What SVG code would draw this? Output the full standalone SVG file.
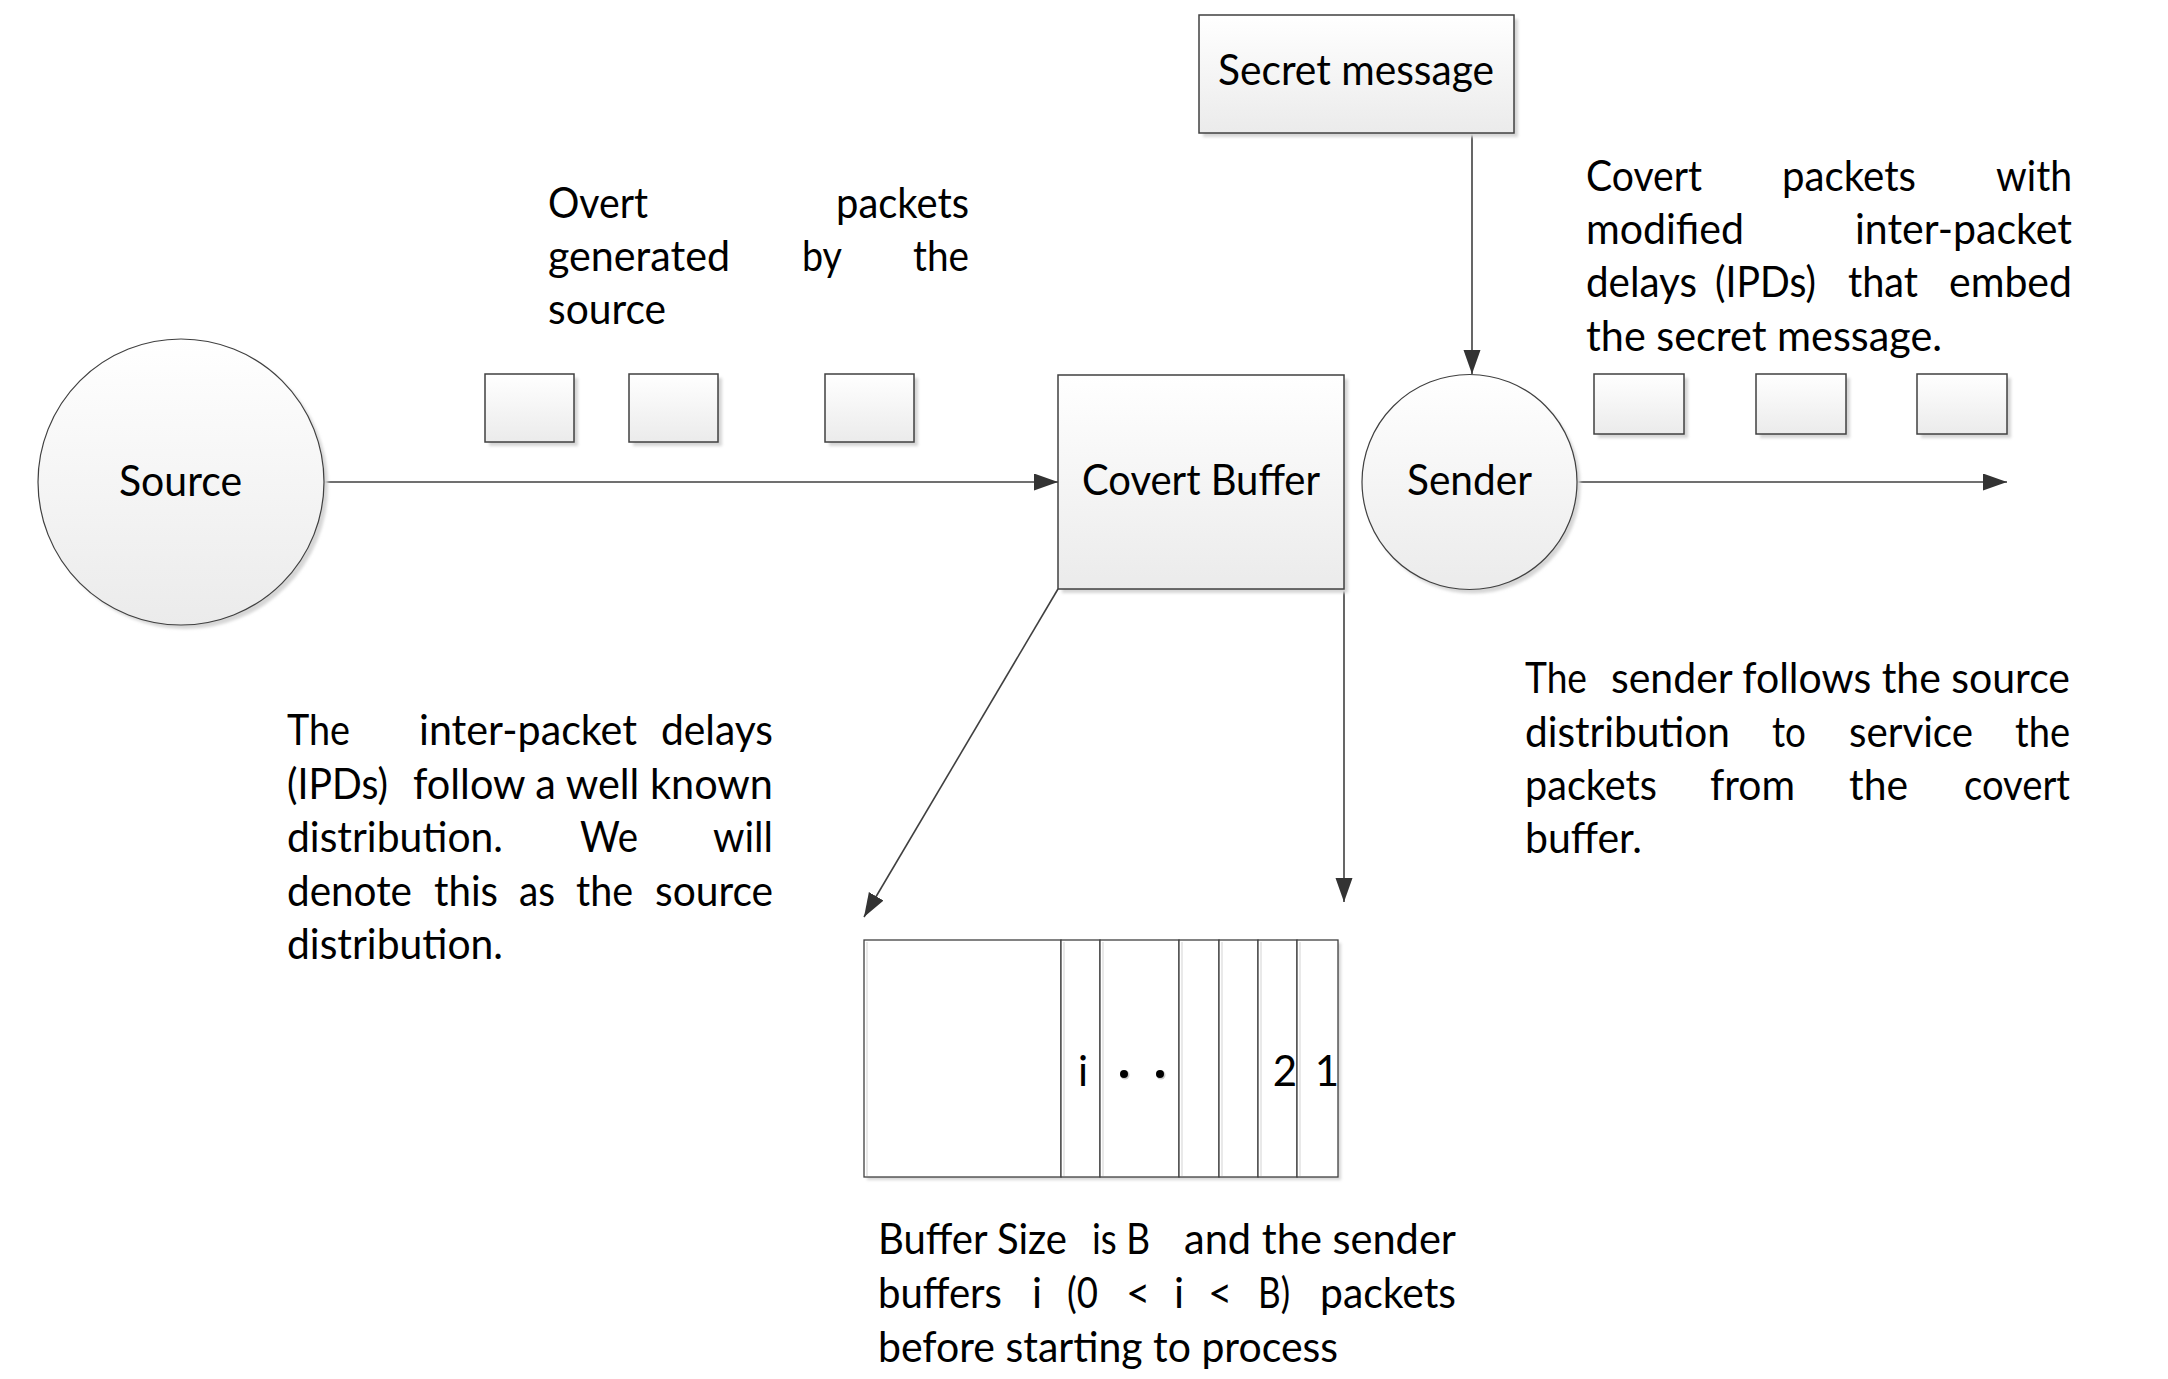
<svg xmlns="http://www.w3.org/2000/svg" width="2168" height="1379" viewBox="0 0 2168 1379">
<style>
.t{font-family:Lato,"Open Sans","Liberation Sans",sans-serif;font-size:42px;fill:#000}
.box{fill:url(#g);stroke:#404040;stroke-width:1.5}
.circ{fill:url(#g);stroke:#404040;stroke-width:1.2}
.cell{fill:#fff;stroke:#404040;stroke-width:1.3}
.sh{fill:#d6d6d6;filter:url(#blur)}
.conn{stroke:#404040;stroke-width:1.6;fill:none;marker-end:url(#arr)}
</style>
<defs>
<linearGradient id="g" x1="0" y1="0" x2="0" y2="1">
<stop offset="0" stop-color="#ffffff"/>
<stop offset="1" stop-color="#ebebeb"/>
</linearGradient>
<filter id="blur" x="-10%" y="-10%" width="120%" height="120%"><feGaussianBlur stdDeviation="1.5"/></filter>
<marker id="arr" markerUnits="userSpaceOnUse" markerWidth="26" markerHeight="18" refX="24" refY="8.5" orient="auto">
<path d="M0,0 L24,8.5 L0,17 z" fill="#333"/>
</marker>
</defs>
<rect width="2168" height="1379" fill="#fff"/>

<g id="connectors">
<line class="conn" x1="325" y1="482" x2="1058" y2="482"/>
<line class="conn" x1="1472" y1="134" x2="1472" y2="374"/>
<line class="conn" x1="1577" y1="482" x2="2007" y2="482"/>
<line class="conn" x1="1058" y1="589" x2="864" y2="917"/>
<line class="conn" x1="1344" y1="589" x2="1344" y2="902"/>
</g>

<g id="source">
<circle class="sh" cx="185" cy="486" r="143"/>
<circle class="circ" cx="181" cy="482" r="143"/>
<text class="t" x="119" y="496" textLength="123" lengthAdjust="spacingAndGlyphs">Source</text>
</g>

<g id="covert-buffer">
<rect class="sh" x="1062" y="379" width="286" height="214"/>
<rect class="box" x="1058" y="375" width="286" height="214"/>
<text class="t" x="1082" y="495" textLength="238" lengthAdjust="spacingAndGlyphs">Covert Buffer</text>
</g>

<g id="sender">
<circle class="sh" cx="1473" cy="486" r="107.5"/>
<circle class="circ" cx="1469.5" cy="482" r="107.5"/>
<text class="t" x="1407" y="495" textLength="125" lengthAdjust="spacingAndGlyphs">Sender</text>
</g>

<g id="secret-message">
<rect class="sh" x="1203" y="19" width="315" height="118"/>
<rect class="box" x="1199" y="15" width="315" height="118"/>
<text class="t" x="1218" y="85" textLength="276" lengthAdjust="spacingAndGlyphs">Secret message</text>
</g>

<g id="overt-packets">
<rect class="sh" x="489" y="378" width="89" height="68"/>
<rect class="box" x="485" y="374" width="89" height="68"/>
<rect class="sh" x="633" y="378" width="89" height="68"/>
<rect class="box" x="629" y="374" width="89" height="68"/>
<rect class="sh" x="829" y="378" width="89" height="68"/>
<rect class="box" x="825" y="374" width="89" height="68"/>
</g>

<g id="covert-packets">
<rect class="sh" x="1598" y="378" width="90" height="60"/>
<rect class="box" x="1594" y="374" width="90" height="60"/>
<rect class="sh" x="1760" y="378" width="90" height="60"/>
<rect class="box" x="1756" y="374" width="90" height="60"/>
<rect class="sh" x="1921" y="378" width="90" height="60"/>
<rect class="box" x="1917" y="374" width="90" height="60"/>
</g>

<g id="buffer-array">
<rect class="sh" x="867" y="943" width="474" height="237"/>
<rect class="cell" x="864" y="940" width="197" height="237"/>
<rect class="cell" x="1061" y="940" width="39" height="237"/>
<rect class="cell" x="1100" y="940" width="79" height="237"/>
<rect class="cell" x="1179" y="940" width="40" height="237"/>
<rect class="cell" x="1219" y="940" width="39" height="237"/>
<rect class="cell" x="1258" y="940" width="39" height="237"/>
<rect class="cell" x="1297" y="940" width="41" height="237"/>
<g stroke="#e2e2e2" stroke-width="1.5">
<line x1="1064" y1="942" x2="1064" y2="1176"/>
<line x1="1103" y1="942" x2="1103" y2="1176"/>
<line x1="1182" y1="942" x2="1182" y2="1176"/>
<line x1="1222" y1="942" x2="1222" y2="1176"/>
<line x1="1261" y1="942" x2="1261" y2="1176"/>
<line x1="1300" y1="942" x2="1300" y2="1176"/>
<line x1="867" y1="942" x2="867" y2="1176"/>
</g>
<text class="t" x="1083" y="1086" text-anchor="middle">i</text>
<circle cx="1125" cy="1075" r="4.5" fill="#ccc"/>
<circle cx="1161" cy="1075" r="4.5" fill="#ccc"/>
<circle cx="1124" cy="1074" r="4" fill="#000"/>
<circle cx="1160" cy="1074" r="4" fill="#000"/>
<text class="t" x="1285" y="1086" text-anchor="middle">2</text>
<text class="t" x="1327" y="1086" text-anchor="middle">1</text>
</g>

<g id="text-overt">
<text class="t" x="548" y="218" textLength="100" lengthAdjust="spacingAndGlyphs">Overt</text>
<text class="t" x="836" y="218" textLength="133" lengthAdjust="spacingAndGlyphs">packets</text>
<text class="t" x="548" y="271" textLength="182" lengthAdjust="spacingAndGlyphs">generated</text>
<text class="t" x="802" y="271" textLength="40" lengthAdjust="spacingAndGlyphs">by</text>
<text class="t" x="913" y="271" textLength="56" lengthAdjust="spacingAndGlyphs">the</text>
<text class="t" x="548" y="324" textLength="118" lengthAdjust="spacingAndGlyphs">source</text>
</g>

<g id="text-covert">
<text class="t" x="1586" y="191" textLength="116" lengthAdjust="spacingAndGlyphs">Covert</text>
<text class="t" x="1782" y="191" textLength="134" lengthAdjust="spacingAndGlyphs">packets</text>
<text class="t" x="1996" y="191" textLength="76" lengthAdjust="spacingAndGlyphs">with</text>
<text class="t" x="1586" y="244" textLength="158" lengthAdjust="spacingAndGlyphs">modified</text>
<text class="t" x="1855" y="244" textLength="217" lengthAdjust="spacingAndGlyphs">inter-packet</text>
<text class="t" x="1586" y="297" textLength="111" lengthAdjust="spacingAndGlyphs">delays</text>
<text class="t" x="1715" y="297" textLength="101" lengthAdjust="spacingAndGlyphs">(IPDs)</text>
<text class="t" x="1848" y="297" textLength="70" lengthAdjust="spacingAndGlyphs">that</text>
<text class="t" x="1949" y="297" textLength="123" lengthAdjust="spacingAndGlyphs">embed</text>
<text class="t" x="1586" y="351" textLength="356" lengthAdjust="spacingAndGlyphs">the secret message.</text>
</g>

<g id="text-ipd">
<text class="t" x="287" y="745" textLength="63" lengthAdjust="spacingAndGlyphs">The</text>
<text class="t" x="419" y="745" textLength="218" lengthAdjust="spacingAndGlyphs">inter-packet</text>
<text class="t" x="661" y="745" textLength="112" lengthAdjust="spacingAndGlyphs">delays</text>
<text class="t" x="287" y="799" textLength="101" lengthAdjust="spacingAndGlyphs">(IPDs)</text>
<text class="t" x="413" y="799" textLength="360" lengthAdjust="spacingAndGlyphs">follow a well known</text>
<text class="t" x="287" y="852" textLength="216" lengthAdjust="spacingAndGlyphs">distribution.</text>
<text class="t" x="580" y="852" textLength="58" lengthAdjust="spacingAndGlyphs">We</text>
<text class="t" x="713" y="852" textLength="60" lengthAdjust="spacingAndGlyphs">will</text>
<text class="t" x="287" y="906" textLength="125" lengthAdjust="spacingAndGlyphs">denote</text>
<text class="t" x="434" y="906" textLength="64" lengthAdjust="spacingAndGlyphs">this</text>
<text class="t" x="519" y="906" textLength="36" lengthAdjust="spacingAndGlyphs">as</text>
<text class="t" x="576" y="906" textLength="57" lengthAdjust="spacingAndGlyphs">the</text>
<text class="t" x="655" y="906" textLength="118" lengthAdjust="spacingAndGlyphs">source</text>
<text class="t" x="287" y="959" textLength="216" lengthAdjust="spacingAndGlyphs">distribution.</text>
</g>

<g id="text-sender">
<text class="t" x="1525" y="693" textLength="62" lengthAdjust="spacingAndGlyphs">The</text>
<text class="t" x="1611" y="693" textLength="459" lengthAdjust="spacingAndGlyphs">sender follows the source</text>
<text class="t" x="1525" y="747" textLength="205" lengthAdjust="spacingAndGlyphs">distribution</text>
<text class="t" x="1772" y="747" textLength="34" lengthAdjust="spacingAndGlyphs">to</text>
<text class="t" x="1849" y="747" textLength="124" lengthAdjust="spacingAndGlyphs">service</text>
<text class="t" x="2015" y="747" textLength="55" lengthAdjust="spacingAndGlyphs">the</text>
<text class="t" x="1525" y="800" textLength="132" lengthAdjust="spacingAndGlyphs">packets</text>
<text class="t" x="1710" y="800" textLength="85" lengthAdjust="spacingAndGlyphs">from</text>
<text class="t" x="1849" y="800" textLength="59" lengthAdjust="spacingAndGlyphs">the</text>
<text class="t" x="1964" y="800" textLength="106" lengthAdjust="spacingAndGlyphs">covert</text>
<text class="t" x="1525" y="853" textLength="117" lengthAdjust="spacingAndGlyphs">buffer.</text>
</g>

<g id="text-buffer">
<text class="t" x="878" y="1254" textLength="189" lengthAdjust="spacingAndGlyphs">Buffer Size</text>
<text class="t" x="1092" y="1254" textLength="58" lengthAdjust="spacingAndGlyphs">is B</text>
<text class="t" x="1184" y="1254" textLength="272" lengthAdjust="spacingAndGlyphs">and the sender</text>
<text class="t" x="878" y="1308" textLength="124" lengthAdjust="spacingAndGlyphs">buffers</text>
<text class="t" x="1032" y="1308">i</text>
<text class="t" x="1067" y="1308" textLength="31" lengthAdjust="spacingAndGlyphs">(0</text>
<text class="t" x="1126" y="1308">&lt;</text>
<text class="t" x="1174" y="1308">i</text>
<text class="t" x="1208" y="1308">&lt;</text>
<text class="t" x="1258" y="1308" textLength="32" lengthAdjust="spacingAndGlyphs">B)</text>
<text class="t" x="1320" y="1308" textLength="136" lengthAdjust="spacingAndGlyphs">packets</text>
<text class="t" x="878" y="1362" textLength="460" lengthAdjust="spacingAndGlyphs">before starting to process</text>
</g>
</svg>
